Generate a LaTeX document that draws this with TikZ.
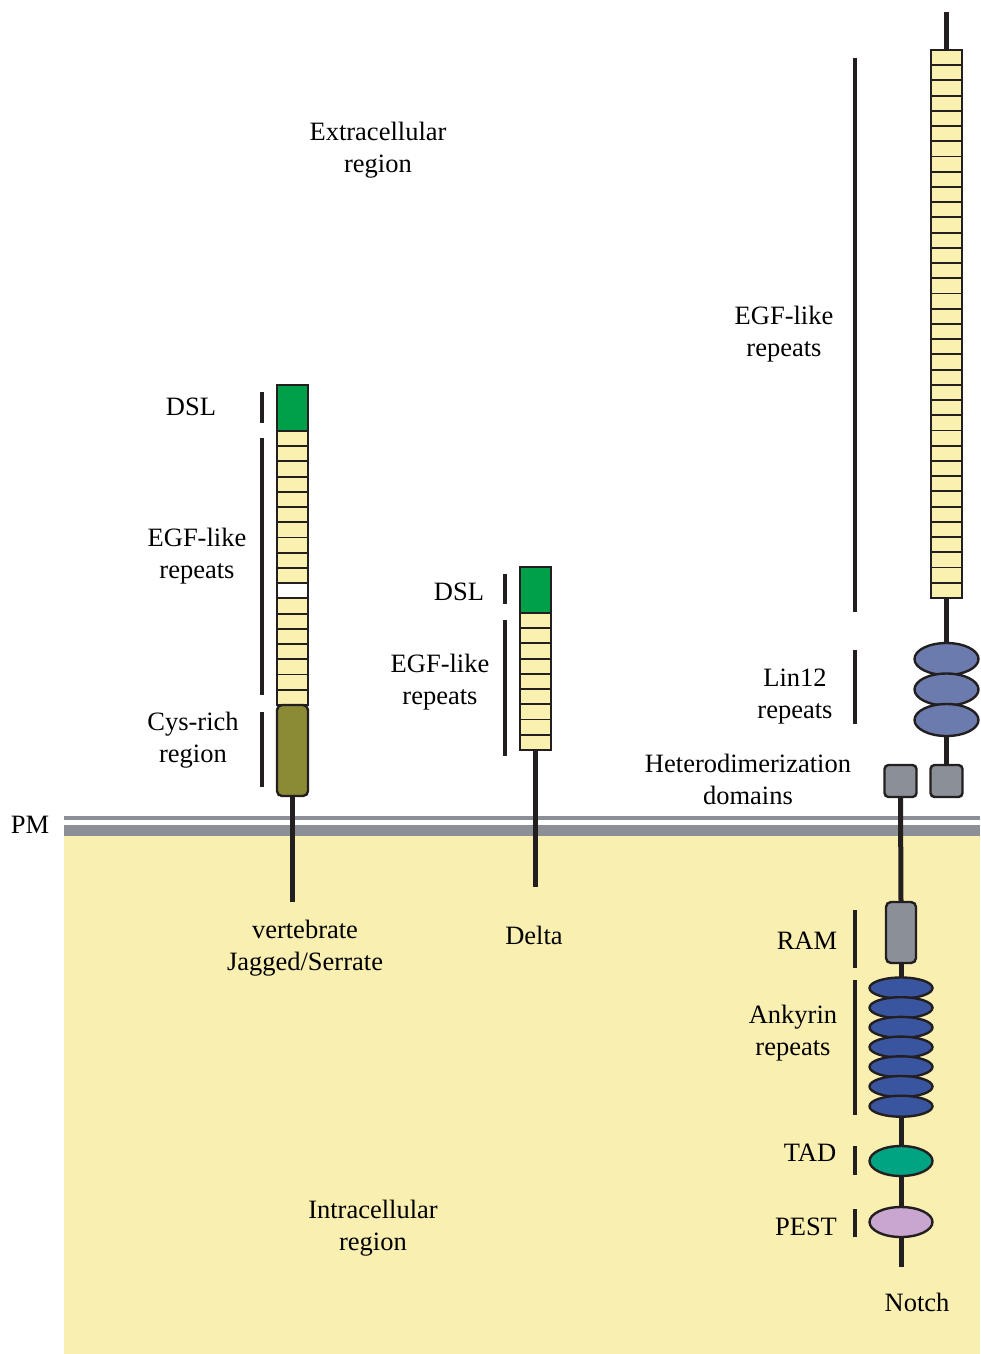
\documentclass[tikz,border=0pt]{standalone}
\usepackage{fontspec}
\setmainfont{Liberation Serif}
\usetikzlibrary{shapes.geometric}
\definecolor{bgyellow}{HTML}{F9EFB0}
\definecolor{segyellow}{HTML}{FAF0B0}
\definecolor{mgrey}{HTML}{8A9096}
\definecolor{dslgreen}{HTML}{00A04B}
\definecolor{cysolive}{HTML}{8B8B35}
\definecolor{linblue}{HTML}{6C7BAE}
\definecolor{ankblue}{HTML}{3A55A0}
\definecolor{tadteal}{HTML}{00A482}
\definecolor{pestlilac}{HTML}{C9A6D0}
\definecolor{ink}{HTML}{231F20}
\begin{document}
\begin{tikzpicture}[x=1pt,y=-1pt,
 lbl/.style={font=\fontsize{26.5}{32}\selectfont, align=center, text=black, inner sep=0},
 stem/.style={draw=ink, line width=5pt},
 bar/.style={draw=ink, line width=4pt},
 seg/.style={draw=ink, line width=1.9pt, fill=segyellow, rectangle, minimum width=31pt, minimum height=15.22pt, inner sep=0, outer sep=0},
 frame/.style={draw=ink, line width=2.4pt},
 dom/.style={draw=ink, line width=2.4pt, rectangle, inner sep=0, outer sep=0},
 ell/.style={draw=ink, line width=2.4pt, ellipse, inner sep=0, outer sep=0, minimum width=63pt}
]
\useasboundingbox (0,0) rectangle (980,1354);
% cytoplasm and membrane
\fill[bgyellow] (64,836) rectangle (980,1354);
\fill[mgrey] (64,816) rectangle (980,820);
\fill[mgrey] (64,825) rectangle (980,836);

% ---------------- Jagged/Serrate ----------------
\node[dom, fill=dslgreen, minimum width=31pt, minimum height=46pt] (jdsl) at (292.5,408) {};
\foreach \i in {1,...,18}{
  \ifnum\i=11 \def\fc{white}\else\def\fc{segyellow}\fi
  \node[seg, fill=\fc] (j\i) at (292.5,{431+(\i-0.5)*15.22}) {};
}
\draw[frame] (j1.north west) rectangle (j18.south east);
\node[dom, fill=cysolive, rounded corners=5pt, minimum width=31pt, minimum height=91pt] (jcys) at (292.5,750.5) {};
\coordinate (jend) at (292.5,902);
\draw[stem] (jcys.south) -- (jend);

% ---------------- Delta ----------------
\node[dom, fill=dslgreen, minimum width=31pt, minimum height=46pt] (ddsl) at (535.5,590) {};
\foreach \i in {1,...,9}{
  \node[seg] (d\i) at (535.5,{613+(\i-0.5)*15.22}) {};
}
\draw[frame] (d1.north west) rectangle (d9.south east);
\coordinate (dend) at (535.5,887);
\draw[stem] (d9.south) -- (dend);

% ---------------- Notch ----------------
\coordinate (ntop) at (946.5,12);
\foreach \i in {1,...,36}{
  \node[seg] (n\i) at (946.5,{50+(\i-0.5)*15.22}) {};
}
\draw[frame] (n1.north west) rectangle (n36.south east);
\draw[stem] (ntop) -- (n1.north);
\node[ell, fill=linblue, minimum width=64pt, minimum height=32pt] (l1) at (946.5,659) {};
\node[ell, fill=linblue, minimum width=64pt, minimum height=32pt] (l2) at (946.5,689.5) {};
\node[ell, fill=linblue, minimum width=64pt, minimum height=32pt] (l3) at (946.5,720) {};
\draw[stem] (n36.south) -- (l1.north);
\node[dom, fill=mgrey, rounded corners=4pt, minimum width=32pt, minimum height=32pt] (hr) at (946.5,781) {};
\node[dom, fill=mgrey, rounded corners=4pt, minimum width=32pt, minimum height=32pt] (hl) at (900.5,781) {};
\draw[stem] (l3.south) -- (hr.north);
\node[dom, fill=mgrey, rounded corners=5pt, minimum width=30pt, minimum height=61pt] (ram) at (901,932.5) {};
\draw[stem] (hl.south) -- (ram.north);
\foreach \k in {1,...,7}{
  \node[ell, fill=ankblue, minimum height=21pt] (a\k) at (901,{988+(\k-1)*19.7}) {};
}
\draw[stem] (ram.south) -- (a1.north);
\node[ell, fill=tadteal, minimum height=30pt] (tad) at (901,1161) {};
\node[ell, fill=pestlilac, minimum height=30pt] (pest) at (901,1222) {};
\coordinate (nend) at (901,1267);
\draw[stem] (a7.south) -- (tad.north);
\draw[stem] (tad.south) -- (pest.north);
\draw[stem] (pest.south) -- (nend);

% ---------------- brackets ----------------
\draw[bar] (262,392) -- (262,423);
\draw[bar] (262,438) -- (262,695);
\draw[bar] (262,712) -- (262,787);
\draw[bar] (505,574) -- (505,604);
\draw[bar] (505,620) -- (505,756);
\draw[bar] (855,58) -- (855,612);
\draw[bar] (855,650) -- (855,724);
\draw[bar] (855,910) -- (855,968);
\draw[bar] (855,980) -- (855,1115);
\draw[bar] (855,1146) -- (855,1175);
\draw[bar] (855,1209) -- (855,1237);

% ---------------- labels ----------------
\node[lbl] (extra) at (378,150) {Extracellular\\region};
\node[lbl] (jdsll) at (191,407) {DSL};
\node[lbl] (jegfl) at (197,556) {EGF-like\\repeats};
\node[lbl] (jcysl) at (193,740) {Cys-rich\\region};
\node[lbl] (ddsll) at (459,592) {DSL};
\node[lbl] (degfl) at (440,682) {EGF-like\\repeats};
\node[lbl] (negfl) at (784,334) {EGF-like\\repeats};
\node[lbl] (linl) at (795,697) {Lin12\\repeats};
\node[lbl] (hetl) at (748,779) {Heterodimerization\\domains};
\node[lbl] (pml) at (30,825) {PM};
\node[lbl] (jagl) at (305,948) {vertebrate\\Jagged/Serrate};
\node[lbl] (deltal) at (534,935) {Delta};
\node[lbl] (raml) at (807,941) {RAM};
\node[lbl] (ankl) at (793,1033) {Ankyrin\\repeats};
\node[lbl] (tadl) at (810,1153) {TAD};
\node[lbl] (pestl) at (806,1227) {PEST};
\node[lbl] (intra) at (373,1228) {Intracellular\\region};
\node[lbl] (notchl) at (917,1302) {Notch};
\end{tikzpicture}
\end{document}
